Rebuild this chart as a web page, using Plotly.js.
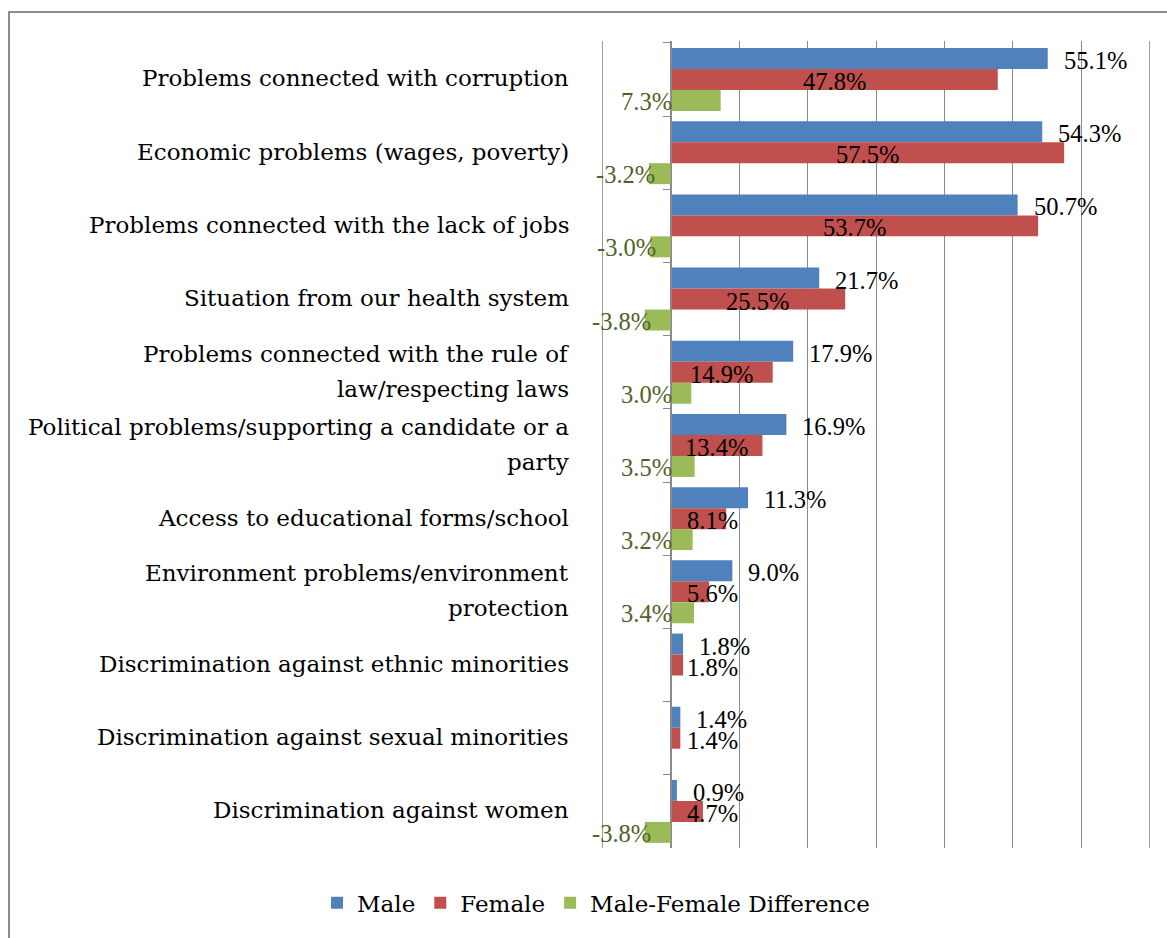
<!DOCTYPE html>
<html>
<head>
<meta charset="utf-8">
<script src="https://cdn.plot.ly/plotly-3.0.1.min.js"></script>
<style>html,body{margin:0;padding:0;background:#fff;}#chart{width:1167px;height:938px;}</style>
</head>
<body>
<div id="chart"></div>
<script>
const categories = [
  "Problems connected with corruption",
  "Economic problems (wages, poverty)",
  "Problems connected with the lack of jobs",
  "Situation from our health system",
  "Problems connected with the rule of<br>law/respecting laws",
  "Political problems/supporting a candidate or a<br>party",
  "Access to educational forms/school",
  "Environment problems/environment<br>protection",
  "Discrimination against ethnic minorities",
  "Discrimination against sexual minorities",
  "Discrimination against women"
];
const male   = [55.1, 54.3, 50.7, 21.7, 17.9, 16.9, 11.3, 9.0, 1.8, 1.4, 0.9];
const female = [47.8, 57.5, 53.7, 25.5, 14.9, 13.4, 8.1, 5.6, 1.8, 1.4, 4.7];
const diff   = [7.3, -3.2, -3.0, -3.8, 3.0, 3.5, 3.2, 3.4, 0, 0, -3.8];
const seriesNames = ["Male", "Female", "Male-Female Difference"];
const colors = ["#4F81BD", "#C0504D", "#9BBB59"];

const wordFont = "DejaVu Serif";
const numFont = "Liberation Serif";
const wordSize = 23;
const numSize = 24.5;
const gridColor = "#8A8A8A";

const traces = [male, female, diff].map((vals, k) => ({
  type: "bar",
  orientation: "h",
  name: seriesNames[k],
  y: categories,
  x: vals,
  marker: {color: colors[k]},
  hoverinfo: "skip"
}));

const xmin = -10.05, xmax = 70.05;
const edgeGrid = [-10, 70];
const bargap = 0.14;
const bw = (1 - bargap) / 3;
const ann = [];
const fmt = v => v.toFixed(1) + "%";

categories.forEach((c, i) => {
  const lines = c.split("<br>");
  lines.forEach((ln, j) => {
    ann.push({
      xref: "x", yref: "y", x: xmin, y: i, xanchor: "right", yanchor: "middle",
      xshift: -31, yshift: 1 - ((j - (lines.length - 1) / 2) * 35),
      text: ln, showarrow: false, align: "center",
      font: {family: wordFont, size: wordSize, color: "#000"}
    });
  });
  ann.push({
    xref: "x", yref: "y", x: male[i], y: i - bw, xanchor: "left", yanchor: "middle",
    xshift: 14, yshift: -2, text: fmt(male[i]), showarrow: false,
    font: {family: numFont, size: numSize, color: "#000"}
  });
  const fv = female[i];
  ann.push({
    xref: "x", yref: "y", x: fv >= 10 ? fv / 2 : 0, y: i,
    xanchor: fv >= 10 ? "center" : "left", yanchor: "middle",
    xshift: fv >= 10 ? 0 : 14, yshift: -2, text: fmt(fv), showarrow: false,
    font: {family: numFont, size: numSize, color: "#000"}
  });
  const dv = diff[i];
  if (dv !== 0) {
    ann.push({
      xref: "x", yref: "y", x: dv > 0 ? 0 : dv, y: i + bw,
      xanchor: "right", yanchor: "middle",
      xshift: dv > 0 ? 3 : 8, yshift: -1, text: fmt(dv), showarrow: false,
      font: {family: numFont, size: numSize, color: "#4F6228"}
    });
  }
});

const shapes = [{
  type: "rect", xref: "paper", yref: "paper",
  x0: -1.0821, x1: 1.06, y0: -0.13, y1: 1.0359,
  line: {color: "#8C8C8C", width: 2}, fillcolor: "rgba(0,0,0,0)", layer: "below"
}];
edgeGrid.forEach(g => shapes.push({
  type: "line", xref: "x", yref: "paper", x0: g, x1: g, y0: 0, y1: 1,
  line: {color: gridColor, width: 1}, layer: "below"
}));

const layout = {
  width: 1167, height: 938,
  margin: {l: 602, r: 17, t: 41, b: 90, pad: 0},
  paper_bgcolor: "#fff", plot_bgcolor: "#fff",
  barmode: "group", bargap: bargap, bargroupgap: 0,
  showlegend: true,
  legend: {
    orientation: "h", x: -0.52, xanchor: "left", y: -0.068, yanchor: "middle",
    font: {family: wordFont, size: wordSize, color: "#000"}, traceorder: "normal"
  },
  xaxis: {
    range: [xmin, xmax], dtick: 10, tick0: 0, showgrid: true, gridcolor: gridColor, gridwidth: 1,
    showticklabels: false, zeroline: false, showline: false, ticks: "", fixedrange: true
  },
  yaxis: {
    type: "category", autorange: "reversed", showticklabels: false,
    anchor: "free", position: (0 - xmin) / (xmax - xmin), showline: true, linecolor: gridColor, linewidth: 1,
    ticks: "outside", tickson: "boundaries", ticklen: 8, tickcolor: gridColor,
    showgrid: false, zeroline: false
  },
  annotations: ann,
  shapes: shapes
};

Plotly.newPlot("chart", traces, layout, {displayModeBar: false, staticPlot: true});
</script>
</body>
</html>
